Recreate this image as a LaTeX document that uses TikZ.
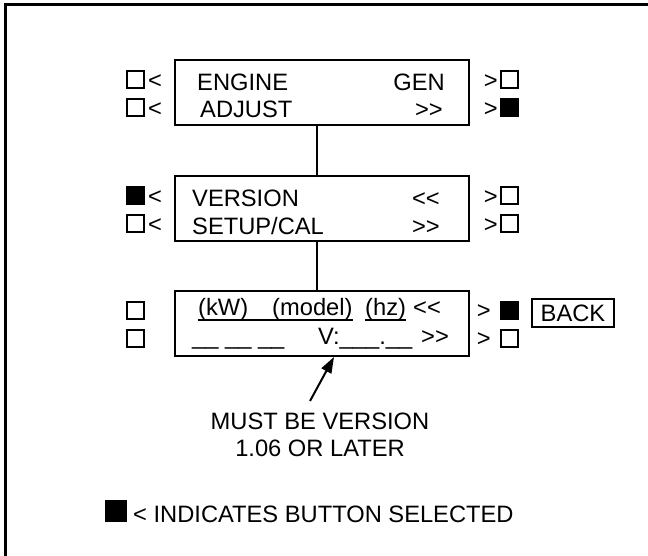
\documentclass[tikz,border=0pt]{standalone}
\usepackage{fontspec}
\setmainfont{Liberation Sans}
\usetikzlibrary{arrows.meta,positioning}

\begin{document}
\begin{tikzpicture}[x=1pt, y=-1pt,
  every node/.style={font=\fontsize{23.7}{27}\selectfont},
  disp/.style={draw, line width=2pt, minimum width=294pt, minimum height=65pt, inner sep=0},
  btn/.style={draw, line width=2pt, minimum size=17pt, inner sep=0},
  btnon/.style={btn, fill=black},
  txt/.style={inner sep=0, anchor=base west},
  txtr/.style={inner sep=0, anchor=base east}]
  \useasboundingbox (0,0) rectangle (648,556);
  \clip (0,0) rectangle (648,556);
  % --- cerceve ---
  \draw[line width=3pt] (5,5) rectangle (700,620);

  % --- ekranlar ---
  \node[disp] (eng)  at (322,92.5)  {};
  \node[disp] (ver)  at (322,208.5) {};
  \node[disp] (info) at (322,323.5) {};
  \draw[line width=2pt] ([xshift=-5pt]eng.south) -- ([xshift=-5pt]ver.north);
  \draw[line width=2pt] ([xshift=-5pt]ver.south) -- ([xshift=-5pt]info.north);

  % ekran yazilari
  \node[txt]  (engt) at (197,91)  {ENGINE};
  \node[txtr] (gent) at (445,91)  {GEN};
  \node[txt]  (adjt) at (200,118) {ADJUST};
  \node[txtr] (adjn) at (443,118) {>{}>};
  \node[txt]  (vert) at (192,207) {VERSION};
  \node[txtr] (verp) at (440,207) {<{}<};
  \node[txt]  (sett) at (192,235) {SETUP/CAL};
  \node[txtr] (setn) at (440,235) {>{}>};
  \node[txt]  (kw)    at (198,315) {(kW)};
  \node[txt]  (model) at (272,315) {(model)};
  \node[txt]  (hz)    at (365,315) {(hz)};
  \node[txt]  (infp)  at (413,315) {<{}<};
  \draw[line width=1.5pt] (kw.south west) -- (model.south east);
  \draw[line width=1.5pt] (hz.south west) -- (hz.south east);
  \node[txt]  (dash)  at (192,344) {\_\_ \_\_ \_\_};
  \node[txt]  (vno)   at (318,344) {V:\_\_\_.\_\_};
  \node[txt]  (infn)  at (421,344) {>{}>};

  % --- dugmeler ---
  \foreach \nm/\x/\y/\st in {ea1/126/89/btn, ea2/126/117/btn,
      eb1/500/89/btn, eb2/500/117/btnon,
      va1/126/205/btnon, va2/126/233/btn,
      vb1/500/205/btn, vb2/500/233/btn,
      ia1/126/320/btn, ia2/126/348/btn,
      ib1/500/320/btnon, ib2/500/348/btn} {
    \node[\st, anchor=south west] (\nm) at (\x,\y) {};
  }
  \foreach \nm in {ea1, ea2, va1, va2}
    \node[txt] (\nm-lt) at ([xshift=3pt]\nm.south east) {<};
  \foreach \nm in {eb1, eb2, vb1, vb2}
    \node[txtr] (\nm-gt) at ([xshift=-2pt]\nm.south west) {>};
  \foreach \nm in {ib1, ib2}
    \node[txtr] (\nm-gt) at ([xshift=-9pt,yshift=2pt]\nm.south west) {>};

  \node[draw, line width=2pt, minimum width=82pt, minimum height=28pt, inner sep=0]
    (back) at (573,313) {BACK};

  % --- not ---
  \node[inner sep=0, anchor=north, align=center] (note) at (320,413)
    {MUST BE VERSION\\1.06 OR LATER};
  \draw[line width=2pt, -{Triangle[length=16pt,width=11pt]}]
    ([xshift=-10pt,yshift=12pt]note.north) -- ([xshift=12pt]info.south);

  % --- aciklama ---
  \node[btnon, minimum size=20pt, anchor=south west] (key) at (105,522) {};
  \node[txt] (keyt) at (133,522) {< INDICATES BUTTON SELECTED};
\end{tikzpicture}
\end{document}
